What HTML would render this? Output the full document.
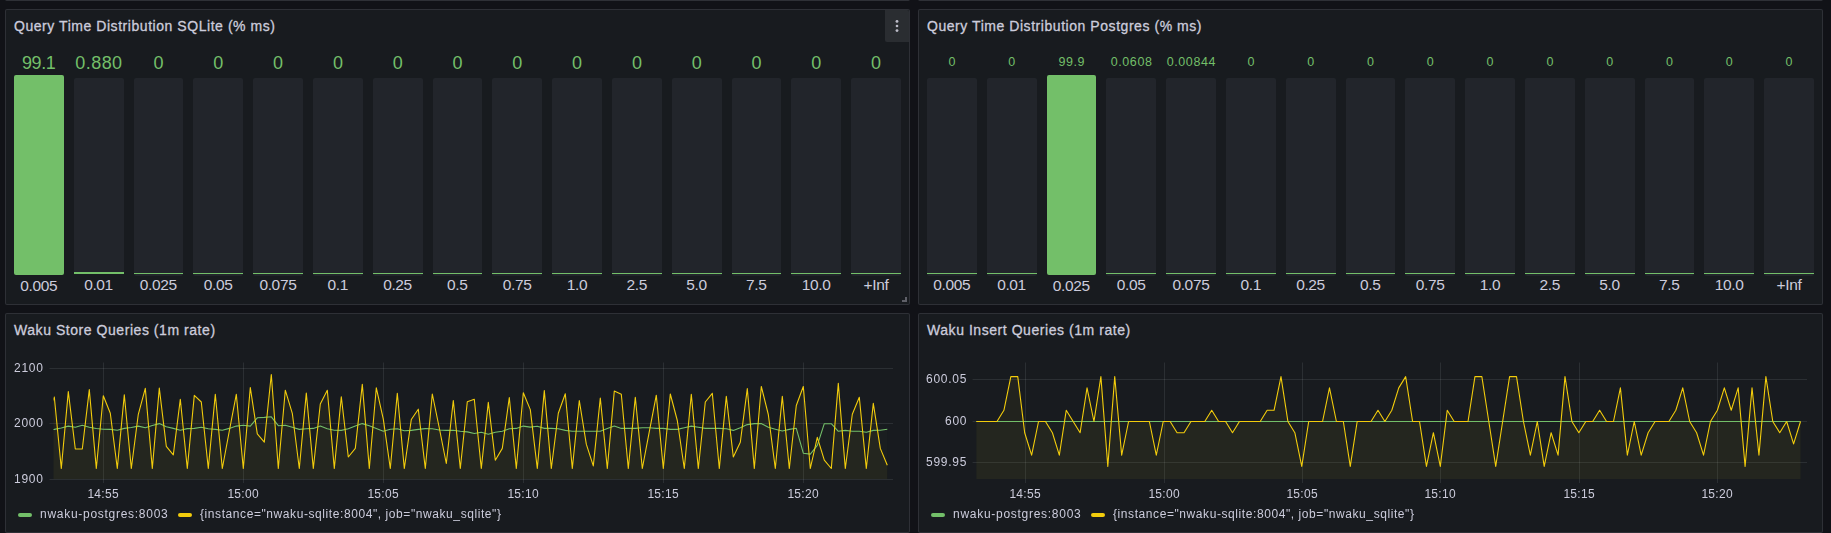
<!DOCTYPE html><html><head><meta charset="utf-8"><style>
html,body{margin:0;padding:0;background:#111217;}
body{width:1831px;height:533px;overflow:hidden;position:relative;font-family:"Liberation Sans",sans-serif;color:#ccccdc;}
.p{position:absolute;background:#181b1f;border:1px solid rgba(204,204,220,0.12);border-radius:2px;box-sizing:border-box;}
.a{position:absolute;white-space:nowrap;}
.ttl{position:absolute;font-size:14px;line-height:16px;white-space:nowrap;letter-spacing:0.55px;-webkit-text-stroke:0.3px #ccccdc;}
.v{position:absolute;text-align:center;color:#73bf69;white-space:nowrap;}
.lb{position:absolute;text-align:center;white-space:nowrap;font-size:15.5px;line-height:16px;letter-spacing:-0.35px;text-indent:-0.35px;}
.eb{position:absolute;background:#22252b;border-radius:2px;}
.fb{position:absolute;background:#73bf69;border-radius:2px;}
.ax{position:absolute;font-size:12px;line-height:14px;white-space:nowrap;will-change:transform;}
.lg{position:absolute;font-size:12px;line-height:14px;white-space:nowrap;letter-spacing:0.72px;will-change:transform;}
.sw{position:absolute;width:14px;height:4px;border-radius:2px;}

</style></head><body>
<div class="p" style="left:5px;top:-60px;width:905px;height:61px"></div>
<div class="p" style="left:918px;top:-60px;width:905px;height:61px"></div>
<div class="p" style="left:5px;top:9px;width:905px;height:296px"></div>
<div class="p" style="left:5px;top:313px;width:905px;height:220px"></div>
<div class="p" style="left:918px;top:9px;width:905px;height:296px"></div>
<div class="p" style="left:918px;top:313px;width:905px;height:220px"></div>
<div class="a" style="left:885px;top:10px;width:24px;height:32px;background:rgba(204,204,220,0.10);border-radius:0 2px 0 2px"></div>
<svg class="a" style="left:885px;top:10px" width="24" height="32"><circle cx="12" cy="11.4" r="1.45" fill="#bcbcc8"/><circle cx="12" cy="15.95" r="1.3" fill="#bcbcc8"/><circle cx="12" cy="20.6" r="1.45" fill="#bcbcc8"/></svg>
<div class="a" style="left:902px;top:297px;width:5px;height:5px;border-right:2px solid #5f6068;border-bottom:2px solid #5f6068;box-sizing:border-box"></div>
<div class="ttl" style="left:14px;top:17.5px">Query Time Distribution SQLite (% ms)</div>
<div class="ttl" style="left:927px;top:17.5px">Query Time Distribution Postgres (% ms)</div>
<div class="ttl" style="left:14px;top:321.5px">Waku Store Queries (1m rate)</div>
<div class="ttl" style="left:927px;top:321.5px">Waku Insert Queries (1m rate)</div>
<div class="v" style="left:9.00px;width:59.80px;top:52.5px;font-size:18px;line-height:20px;letter-spacing:-0.45px;text-indent:-0.45px">99.1</div>
<div class="fb" style="left:14.00px;width:49.80px;top:75px;height:200px"></div>
<div class="lb" style="left:9.00px;width:59.80px;top:277.5px">0.005</div>
<div class="v" style="left:68.80px;width:59.80px;top:52.5px;font-size:18px;line-height:20px;letter-spacing:0.45px;text-indent:0.45px">0.880</div>
<div class="eb" style="left:73.80px;width:49.80px;top:78px;height:196px"></div>
<div class="fb" style="left:73.80px;width:49.80px;top:272px;height:2px;border-radius:0"></div>
<div class="lb" style="left:68.80px;width:59.80px;top:276.5px">0.01</div>
<div class="v" style="left:128.60px;width:59.80px;top:52.5px;font-size:18px;line-height:20px;letter-spacing:0.45px;text-indent:0.45px">0</div>
<div class="eb" style="left:133.60px;width:49.80px;top:78px;height:198px"></div>
<div class="fb" style="left:133.60px;width:49.80px;top:273px;height:1px;border-radius:0"></div>
<div class="lb" style="left:128.60px;width:59.80px;top:276.5px">0.025</div>
<div class="v" style="left:188.40px;width:59.80px;top:52.5px;font-size:18px;line-height:20px;letter-spacing:0.45px;text-indent:0.45px">0</div>
<div class="eb" style="left:193.40px;width:49.80px;top:78px;height:198px"></div>
<div class="fb" style="left:193.40px;width:49.80px;top:273px;height:1px;border-radius:0"></div>
<div class="lb" style="left:188.40px;width:59.80px;top:276.5px">0.05</div>
<div class="v" style="left:248.20px;width:59.80px;top:52.5px;font-size:18px;line-height:20px;letter-spacing:0.45px;text-indent:0.45px">0</div>
<div class="eb" style="left:253.20px;width:49.80px;top:78px;height:198px"></div>
<div class="fb" style="left:253.20px;width:49.80px;top:273px;height:1px;border-radius:0"></div>
<div class="lb" style="left:248.20px;width:59.80px;top:276.5px">0.075</div>
<div class="v" style="left:308.00px;width:59.80px;top:52.5px;font-size:18px;line-height:20px;letter-spacing:0.45px;text-indent:0.45px">0</div>
<div class="eb" style="left:313.00px;width:49.80px;top:78px;height:198px"></div>
<div class="fb" style="left:313.00px;width:49.80px;top:273px;height:1px;border-radius:0"></div>
<div class="lb" style="left:308.00px;width:59.80px;top:276.5px">0.1</div>
<div class="v" style="left:367.80px;width:59.80px;top:52.5px;font-size:18px;line-height:20px;letter-spacing:0.45px;text-indent:0.45px">0</div>
<div class="eb" style="left:372.80px;width:49.80px;top:78px;height:198px"></div>
<div class="fb" style="left:372.80px;width:49.80px;top:273px;height:1px;border-radius:0"></div>
<div class="lb" style="left:367.80px;width:59.80px;top:276.5px">0.25</div>
<div class="v" style="left:427.60px;width:59.80px;top:52.5px;font-size:18px;line-height:20px;letter-spacing:0.45px;text-indent:0.45px">0</div>
<div class="eb" style="left:432.60px;width:49.80px;top:78px;height:198px"></div>
<div class="fb" style="left:432.60px;width:49.80px;top:273px;height:1px;border-radius:0"></div>
<div class="lb" style="left:427.60px;width:59.80px;top:276.5px">0.5</div>
<div class="v" style="left:487.40px;width:59.80px;top:52.5px;font-size:18px;line-height:20px;letter-spacing:0.45px;text-indent:0.45px">0</div>
<div class="eb" style="left:492.40px;width:49.80px;top:78px;height:198px"></div>
<div class="fb" style="left:492.40px;width:49.80px;top:273px;height:1px;border-radius:0"></div>
<div class="lb" style="left:487.40px;width:59.80px;top:276.5px">0.75</div>
<div class="v" style="left:547.20px;width:59.80px;top:52.5px;font-size:18px;line-height:20px;letter-spacing:0.45px;text-indent:0.45px">0</div>
<div class="eb" style="left:552.20px;width:49.80px;top:78px;height:198px"></div>
<div class="fb" style="left:552.20px;width:49.80px;top:273px;height:1px;border-radius:0"></div>
<div class="lb" style="left:547.20px;width:59.80px;top:276.5px">1.0</div>
<div class="v" style="left:607.00px;width:59.80px;top:52.5px;font-size:18px;line-height:20px;letter-spacing:0.45px;text-indent:0.45px">0</div>
<div class="eb" style="left:612.00px;width:49.80px;top:78px;height:198px"></div>
<div class="fb" style="left:612.00px;width:49.80px;top:273px;height:1px;border-radius:0"></div>
<div class="lb" style="left:607.00px;width:59.80px;top:276.5px">2.5</div>
<div class="v" style="left:666.80px;width:59.80px;top:52.5px;font-size:18px;line-height:20px;letter-spacing:0.45px;text-indent:0.45px">0</div>
<div class="eb" style="left:671.80px;width:49.80px;top:78px;height:198px"></div>
<div class="fb" style="left:671.80px;width:49.80px;top:273px;height:1px;border-radius:0"></div>
<div class="lb" style="left:666.80px;width:59.80px;top:276.5px">5.0</div>
<div class="v" style="left:726.60px;width:59.80px;top:52.5px;font-size:18px;line-height:20px;letter-spacing:0.45px;text-indent:0.45px">0</div>
<div class="eb" style="left:731.60px;width:49.80px;top:78px;height:198px"></div>
<div class="fb" style="left:731.60px;width:49.80px;top:273px;height:1px;border-radius:0"></div>
<div class="lb" style="left:726.60px;width:59.80px;top:276.5px">7.5</div>
<div class="v" style="left:786.40px;width:59.80px;top:52.5px;font-size:18px;line-height:20px;letter-spacing:0.45px;text-indent:0.45px">0</div>
<div class="eb" style="left:791.40px;width:49.80px;top:78px;height:198px"></div>
<div class="fb" style="left:791.40px;width:49.80px;top:273px;height:1px;border-radius:0"></div>
<div class="lb" style="left:786.40px;width:59.80px;top:276.5px">10.0</div>
<div class="v" style="left:846.20px;width:59.80px;top:52.5px;font-size:18px;line-height:20px;letter-spacing:0.45px;text-indent:0.45px">0</div>
<div class="eb" style="left:851.20px;width:49.80px;top:78px;height:198px"></div>
<div class="fb" style="left:851.20px;width:49.80px;top:273px;height:1px;border-radius:0"></div>
<div class="lb" style="left:846.20px;width:59.80px;top:276.5px">+Inf</div>
<div class="v" style="left:922.00px;width:59.80px;top:54.5px;font-size:12.5px;line-height:14.5px;letter-spacing:0.6px;text-indent:0.6px">0</div>
<div class="eb" style="left:927.00px;width:49.80px;top:78px;height:198px"></div>
<div class="fb" style="left:927.00px;width:49.80px;top:273px;height:1px;border-radius:0"></div>
<div class="lb" style="left:922.00px;width:59.80px;top:276.5px">0.005</div>
<div class="v" style="left:981.80px;width:59.80px;top:54.5px;font-size:12.5px;line-height:14.5px;letter-spacing:0.6px;text-indent:0.6px">0</div>
<div class="eb" style="left:986.80px;width:49.80px;top:78px;height:198px"></div>
<div class="fb" style="left:986.80px;width:49.80px;top:273px;height:1px;border-radius:0"></div>
<div class="lb" style="left:981.80px;width:59.80px;top:276.5px">0.01</div>
<div class="v" style="left:1041.60px;width:59.80px;top:54.5px;font-size:12.5px;line-height:14.5px;letter-spacing:0.6px;text-indent:0.6px">99.9</div>
<div class="fb" style="left:1046.60px;width:49.80px;top:75px;height:200px"></div>
<div class="lb" style="left:1041.60px;width:59.80px;top:277.5px">0.025</div>
<div class="v" style="left:1101.40px;width:59.80px;top:54.5px;font-size:12.5px;line-height:14.5px;letter-spacing:0.6px;text-indent:0.6px">0.0608</div>
<div class="eb" style="left:1106.40px;width:49.80px;top:78px;height:198px"></div>
<div class="fb" style="left:1106.40px;width:49.80px;top:273px;height:1px;border-radius:0"></div>
<div class="lb" style="left:1101.40px;width:59.80px;top:276.5px">0.05</div>
<div class="v" style="left:1161.20px;width:59.80px;top:54.5px;font-size:12.5px;line-height:14.5px;letter-spacing:0.6px;text-indent:0.6px">0.00844</div>
<div class="eb" style="left:1166.20px;width:49.80px;top:78px;height:198px"></div>
<div class="fb" style="left:1166.20px;width:49.80px;top:273px;height:1px;border-radius:0"></div>
<div class="lb" style="left:1161.20px;width:59.80px;top:276.5px">0.075</div>
<div class="v" style="left:1221.00px;width:59.80px;top:54.5px;font-size:12.5px;line-height:14.5px;letter-spacing:0.6px;text-indent:0.6px">0</div>
<div class="eb" style="left:1226.00px;width:49.80px;top:78px;height:198px"></div>
<div class="fb" style="left:1226.00px;width:49.80px;top:273px;height:1px;border-radius:0"></div>
<div class="lb" style="left:1221.00px;width:59.80px;top:276.5px">0.1</div>
<div class="v" style="left:1280.80px;width:59.80px;top:54.5px;font-size:12.5px;line-height:14.5px;letter-spacing:0.6px;text-indent:0.6px">0</div>
<div class="eb" style="left:1285.80px;width:49.80px;top:78px;height:198px"></div>
<div class="fb" style="left:1285.80px;width:49.80px;top:273px;height:1px;border-radius:0"></div>
<div class="lb" style="left:1280.80px;width:59.80px;top:276.5px">0.25</div>
<div class="v" style="left:1340.60px;width:59.80px;top:54.5px;font-size:12.5px;line-height:14.5px;letter-spacing:0.6px;text-indent:0.6px">0</div>
<div class="eb" style="left:1345.60px;width:49.80px;top:78px;height:198px"></div>
<div class="fb" style="left:1345.60px;width:49.80px;top:273px;height:1px;border-radius:0"></div>
<div class="lb" style="left:1340.60px;width:59.80px;top:276.5px">0.5</div>
<div class="v" style="left:1400.40px;width:59.80px;top:54.5px;font-size:12.5px;line-height:14.5px;letter-spacing:0.6px;text-indent:0.6px">0</div>
<div class="eb" style="left:1405.40px;width:49.80px;top:78px;height:198px"></div>
<div class="fb" style="left:1405.40px;width:49.80px;top:273px;height:1px;border-radius:0"></div>
<div class="lb" style="left:1400.40px;width:59.80px;top:276.5px">0.75</div>
<div class="v" style="left:1460.20px;width:59.80px;top:54.5px;font-size:12.5px;line-height:14.5px;letter-spacing:0.6px;text-indent:0.6px">0</div>
<div class="eb" style="left:1465.20px;width:49.80px;top:78px;height:198px"></div>
<div class="fb" style="left:1465.20px;width:49.80px;top:273px;height:1px;border-radius:0"></div>
<div class="lb" style="left:1460.20px;width:59.80px;top:276.5px">1.0</div>
<div class="v" style="left:1520.00px;width:59.80px;top:54.5px;font-size:12.5px;line-height:14.5px;letter-spacing:0.6px;text-indent:0.6px">0</div>
<div class="eb" style="left:1525.00px;width:49.80px;top:78px;height:198px"></div>
<div class="fb" style="left:1525.00px;width:49.80px;top:273px;height:1px;border-radius:0"></div>
<div class="lb" style="left:1520.00px;width:59.80px;top:276.5px">2.5</div>
<div class="v" style="left:1579.80px;width:59.80px;top:54.5px;font-size:12.5px;line-height:14.5px;letter-spacing:0.6px;text-indent:0.6px">0</div>
<div class="eb" style="left:1584.80px;width:49.80px;top:78px;height:198px"></div>
<div class="fb" style="left:1584.80px;width:49.80px;top:273px;height:1px;border-radius:0"></div>
<div class="lb" style="left:1579.80px;width:59.80px;top:276.5px">5.0</div>
<div class="v" style="left:1639.60px;width:59.80px;top:54.5px;font-size:12.5px;line-height:14.5px;letter-spacing:0.6px;text-indent:0.6px">0</div>
<div class="eb" style="left:1644.60px;width:49.80px;top:78px;height:198px"></div>
<div class="fb" style="left:1644.60px;width:49.80px;top:273px;height:1px;border-radius:0"></div>
<div class="lb" style="left:1639.60px;width:59.80px;top:276.5px">7.5</div>
<div class="v" style="left:1699.40px;width:59.80px;top:54.5px;font-size:12.5px;line-height:14.5px;letter-spacing:0.6px;text-indent:0.6px">0</div>
<div class="eb" style="left:1704.40px;width:49.80px;top:78px;height:198px"></div>
<div class="fb" style="left:1704.40px;width:49.80px;top:273px;height:1px;border-radius:0"></div>
<div class="lb" style="left:1699.40px;width:59.80px;top:276.5px">10.0</div>
<div class="v" style="left:1759.20px;width:59.80px;top:54.5px;font-size:12.5px;line-height:14.5px;letter-spacing:0.6px;text-indent:0.6px">0</div>
<div class="eb" style="left:1764.20px;width:49.80px;top:78px;height:198px"></div>
<div class="fb" style="left:1764.20px;width:49.80px;top:273px;height:1px;border-radius:0"></div>
<div class="lb" style="left:1759.20px;width:59.80px;top:276.5px">+Inf</div>
<svg class="a" style="left:0;top:0" width="1831" height="533"><clipPath id="c1"><rect x="53.5" y="362.5" width="839.5" height="116.5"/></clipPath><line x1="49.5" y1="368.5" x2="893" y2="368.5" stroke="rgba(240,250,255,0.09)" stroke-width="1"/><line x1="49.5" y1="423.5" x2="893" y2="423.5" stroke="rgba(240,250,255,0.09)" stroke-width="1"/><line x1="49.5" y1="479.5" x2="893" y2="479.5" stroke="rgba(240,250,255,0.09)" stroke-width="1"/><line x1="103.5" y1="362.5" x2="103.5" y2="483" stroke="rgba(240,250,255,0.09)" stroke-width="1"/><line x1="243.5" y1="362.5" x2="243.5" y2="483" stroke="rgba(240,250,255,0.09)" stroke-width="1"/><line x1="383.5" y1="362.5" x2="383.5" y2="483" stroke="rgba(240,250,255,0.09)" stroke-width="1"/><line x1="523.5" y1="362.5" x2="523.5" y2="483" stroke="rgba(240,250,255,0.09)" stroke-width="1"/><line x1="663.5" y1="362.5" x2="663.5" y2="483" stroke="rgba(240,250,255,0.09)" stroke-width="1"/><line x1="803.5" y1="362.5" x2="803.5" y2="483" stroke="rgba(240,250,255,0.09)" stroke-width="1"/><g clip-path="url(#c1)"><path d="M47.30,429.80 L54.30,429.40 L61.30,428.00 L68.30,426.10 L75.30,427.30 L82.30,425.30 L89.30,427.30 L96.30,428.50 L103.30,429.20 L110.30,429.40 L117.30,430.20 L124.30,428.40 L131.30,427.50 L138.30,426.10 L145.30,427.70 L152.30,425.50 L159.30,423.60 L166.30,426.70 L173.30,428.40 L180.30,430.20 L187.30,428.60 L194.30,428.40 L201.30,427.30 L208.30,428.80 L215.30,429.40 L222.30,430.20 L229.30,428.40 L236.30,426.10 L243.30,425.30 L250.30,426.10 L257.30,417.80 L264.30,417.40 L271.30,416.80 L278.30,425.70 L285.30,425.30 L292.30,427.30 L299.30,429.40 L306.30,428.80 L313.30,428.40 L320.30,426.10 L327.30,428.80 L334.30,430.20 L341.30,430.40 L348.30,428.80 L355.30,426.10 L362.30,423.60 L369.30,425.70 L376.30,428.40 L383.30,431.20 L390.30,429.20 L397.30,428.80 L404.30,430.80 L411.30,430.40 L418.30,429.40 L425.30,428.60 L432.30,428.80 L439.30,430.00 L446.30,430.40 L453.30,430.20 L460.30,431.20 L467.30,431.90 L474.30,433.50 L481.30,432.30 L488.30,434.30 L495.30,432.30 L502.30,431.20 L509.30,428.80 L516.30,428.40 L523.30,426.10 L530.30,427.10 L537.30,426.30 L544.30,428.40 L551.30,428.40 L558.30,428.80 L565.30,430.40 L572.30,431.20 L579.30,431.20 L586.30,431.20 L593.30,431.20 L600.30,431.20 L607.30,428.40 L614.30,426.10 L621.30,428.40 L628.30,428.40 L635.30,428.40 L642.30,427.70 L649.30,427.70 L656.30,428.40 L663.30,428.40 L670.30,429.40 L677.30,429.40 L684.30,427.70 L691.30,426.10 L698.30,427.30 L705.30,428.40 L712.30,428.40 L719.30,428.40 L726.30,428.80 L733.30,430.40 L740.30,427.70 L747.30,424.60 L754.30,423.60 L761.30,423.60 L768.30,427.30 L775.30,429.20 L782.30,431.00 L789.30,429.40 L796.30,428.30 L803.30,453.20 L810.30,454.10 L817.30,445.30 L824.30,423.70 L831.30,423.70 L838.30,431.30 L845.30,430.40 L852.30,431.20 L859.30,431.20 L866.30,432.30 L873.30,430.40 L880.30,430.20 L887.30,429.20 L887.30,479 L47.30,479 Z" fill="#73bf69" fill-opacity="0.025" stroke="none"/><path d="M47.30,413.50 L54.30,397.00 L61.30,468.50 L68.30,391.60 L75.30,449.00 L82.30,449.00 L89.30,389.60 L96.30,468.50 L103.30,395.80 L110.30,413.30 L117.30,468.50 L124.30,394.70 L131.30,468.50 L138.30,414.30 L145.30,388.40 L152.30,468.50 L159.30,388.10 L166.30,446.30 L173.30,454.90 L180.30,399.30 L187.30,468.50 L194.30,395.40 L201.30,402.00 L208.30,468.50 L215.30,394.30 L222.30,468.50 L229.30,431.00 L236.30,394.30 L243.30,468.50 L250.30,387.50 L257.30,433.90 L264.30,442.20 L271.30,374.50 L278.30,468.50 L285.30,390.20 L292.30,413.30 L299.30,468.50 L306.30,393.10 L313.30,468.50 L320.30,404.00 L327.30,390.20 L334.30,468.50 L341.30,396.80 L348.30,457.00 L355.30,448.40 L362.30,384.40 L369.30,468.50 L376.30,387.80 L383.30,419.20 L390.30,468.50 L397.30,393.30 L404.30,468.50 L411.30,419.50 L418.30,409.20 L425.30,468.50 L432.30,394.00 L439.30,428.00 L446.30,463.50 L453.30,400.50 L460.30,468.50 L467.30,401.80 L474.30,399.30 L481.30,468.50 L488.30,402.40 L495.30,460.30 L502.30,448.40 L509.30,397.50 L516.30,468.50 L523.30,392.70 L530.30,409.60 L537.30,468.50 L544.30,390.60 L551.30,468.50 L558.30,413.30 L565.30,393.70 L572.30,468.50 L579.30,400.50 L586.30,444.20 L593.30,465.90 L600.30,398.00 L607.30,468.50 L614.30,391.00 L621.30,394.30 L628.30,468.50 L635.30,397.20 L642.30,468.50 L649.30,431.60 L656.30,395.20 L663.30,468.50 L670.30,394.00 L677.30,420.50 L684.30,468.50 L691.30,394.30 L698.30,468.50 L705.30,402.00 L712.30,393.30 L719.30,468.50 L726.30,396.40 L733.30,457.00 L740.30,442.20 L747.30,388.60 L754.30,468.50 L761.30,386.50 L768.30,414.50 L775.30,468.50 L782.30,396.40 L789.30,468.50 L796.30,405.50 L803.30,386.50 L810.30,468.50 L817.30,437.30 L824.30,460.20 L831.30,468.50 L838.30,383.40 L845.30,468.50 L852.30,414.30 L859.30,397.20 L866.30,468.50 L873.30,403.40 L880.30,448.40 L887.30,465.30 L887.30,479 L47.30,479 Z" fill="#f2cc0c" fill-opacity="0.05" stroke="none"/><path d="M47.30,429.80 L54.30,429.40 L61.30,428.00 L68.30,426.10 L75.30,427.30 L82.30,425.30 L89.30,427.30 L96.30,428.50 L103.30,429.20 L110.30,429.40 L117.30,430.20 L124.30,428.40 L131.30,427.50 L138.30,426.10 L145.30,427.70 L152.30,425.50 L159.30,423.60 L166.30,426.70 L173.30,428.40 L180.30,430.20 L187.30,428.60 L194.30,428.40 L201.30,427.30 L208.30,428.80 L215.30,429.40 L222.30,430.20 L229.30,428.40 L236.30,426.10 L243.30,425.30 L250.30,426.10 L257.30,417.80 L264.30,417.40 L271.30,416.80 L278.30,425.70 L285.30,425.30 L292.30,427.30 L299.30,429.40 L306.30,428.80 L313.30,428.40 L320.30,426.10 L327.30,428.80 L334.30,430.20 L341.30,430.40 L348.30,428.80 L355.30,426.10 L362.30,423.60 L369.30,425.70 L376.30,428.40 L383.30,431.20 L390.30,429.20 L397.30,428.80 L404.30,430.80 L411.30,430.40 L418.30,429.40 L425.30,428.60 L432.30,428.80 L439.30,430.00 L446.30,430.40 L453.30,430.20 L460.30,431.20 L467.30,431.90 L474.30,433.50 L481.30,432.30 L488.30,434.30 L495.30,432.30 L502.30,431.20 L509.30,428.80 L516.30,428.40 L523.30,426.10 L530.30,427.10 L537.30,426.30 L544.30,428.40 L551.30,428.40 L558.30,428.80 L565.30,430.40 L572.30,431.20 L579.30,431.20 L586.30,431.20 L593.30,431.20 L600.30,431.20 L607.30,428.40 L614.30,426.10 L621.30,428.40 L628.30,428.40 L635.30,428.40 L642.30,427.70 L649.30,427.70 L656.30,428.40 L663.30,428.40 L670.30,429.40 L677.30,429.40 L684.30,427.70 L691.30,426.10 L698.30,427.30 L705.30,428.40 L712.30,428.40 L719.30,428.40 L726.30,428.80 L733.30,430.40 L740.30,427.70 L747.30,424.60 L754.30,423.60 L761.30,423.60 L768.30,427.30 L775.30,429.20 L782.30,431.00 L789.30,429.40 L796.30,428.30 L803.30,453.20 L810.30,454.10 L817.30,445.30 L824.30,423.70 L831.30,423.70 L838.30,431.30 L845.30,430.40 L852.30,431.20 L859.30,431.20 L866.30,432.30 L873.30,430.40 L880.30,430.20 L887.30,429.20" fill="none" stroke="#73bf69" stroke-width="1.1" stroke-linejoin="round"/><path d="M47.30,413.50 L54.30,397.00 L61.30,468.50 L68.30,391.60 L75.30,449.00 L82.30,449.00 L89.30,389.60 L96.30,468.50 L103.30,395.80 L110.30,413.30 L117.30,468.50 L124.30,394.70 L131.30,468.50 L138.30,414.30 L145.30,388.40 L152.30,468.50 L159.30,388.10 L166.30,446.30 L173.30,454.90 L180.30,399.30 L187.30,468.50 L194.30,395.40 L201.30,402.00 L208.30,468.50 L215.30,394.30 L222.30,468.50 L229.30,431.00 L236.30,394.30 L243.30,468.50 L250.30,387.50 L257.30,433.90 L264.30,442.20 L271.30,374.50 L278.30,468.50 L285.30,390.20 L292.30,413.30 L299.30,468.50 L306.30,393.10 L313.30,468.50 L320.30,404.00 L327.30,390.20 L334.30,468.50 L341.30,396.80 L348.30,457.00 L355.30,448.40 L362.30,384.40 L369.30,468.50 L376.30,387.80 L383.30,419.20 L390.30,468.50 L397.30,393.30 L404.30,468.50 L411.30,419.50 L418.30,409.20 L425.30,468.50 L432.30,394.00 L439.30,428.00 L446.30,463.50 L453.30,400.50 L460.30,468.50 L467.30,401.80 L474.30,399.30 L481.30,468.50 L488.30,402.40 L495.30,460.30 L502.30,448.40 L509.30,397.50 L516.30,468.50 L523.30,392.70 L530.30,409.60 L537.30,468.50 L544.30,390.60 L551.30,468.50 L558.30,413.30 L565.30,393.70 L572.30,468.50 L579.30,400.50 L586.30,444.20 L593.30,465.90 L600.30,398.00 L607.30,468.50 L614.30,391.00 L621.30,394.30 L628.30,468.50 L635.30,397.20 L642.30,468.50 L649.30,431.60 L656.30,395.20 L663.30,468.50 L670.30,394.00 L677.30,420.50 L684.30,468.50 L691.30,394.30 L698.30,468.50 L705.30,402.00 L712.30,393.30 L719.30,468.50 L726.30,396.40 L733.30,457.00 L740.30,442.20 L747.30,388.60 L754.30,468.50 L761.30,386.50 L768.30,414.50 L775.30,468.50 L782.30,396.40 L789.30,468.50 L796.30,405.50 L803.30,386.50 L810.30,468.50 L817.30,437.30 L824.30,460.20 L831.30,468.50 L838.30,383.40 L845.30,468.50 L852.30,414.30 L859.30,397.20 L866.30,468.50 L873.30,403.40 L880.30,448.40 L887.30,465.30" fill="none" stroke="#f2cc0c" stroke-width="1.1" stroke-linejoin="round"/></g><clipPath id="c2"><rect x="976.2" y="362.5" width="830.8" height="116.5"/></clipPath><line x1="972.6" y1="379.5" x2="1807" y2="379.5" stroke="rgba(240,250,255,0.09)" stroke-width="1"/><line x1="972.6" y1="421.5" x2="1807" y2="421.5" stroke="rgba(240,250,255,0.09)" stroke-width="1"/><line x1="972.6" y1="462.5" x2="1807" y2="462.5" stroke="rgba(240,250,255,0.09)" stroke-width="1"/><line x1="1025.5" y1="362.5" x2="1025.5" y2="483" stroke="rgba(240,250,255,0.09)" stroke-width="1"/><line x1="1164.5" y1="362.5" x2="1164.5" y2="483" stroke="rgba(240,250,255,0.09)" stroke-width="1"/><line x1="1302.5" y1="362.5" x2="1302.5" y2="483" stroke="rgba(240,250,255,0.09)" stroke-width="1"/><line x1="1440.5" y1="362.5" x2="1440.5" y2="483" stroke="rgba(240,250,255,0.09)" stroke-width="1"/><line x1="1579.5" y1="362.5" x2="1579.5" y2="483" stroke="rgba(240,250,255,0.09)" stroke-width="1"/><line x1="1717.5" y1="362.5" x2="1717.5" y2="483" stroke="rgba(240,250,255,0.09)" stroke-width="1"/><g clip-path="url(#c2)"><path d="M976.20,421.50 L1800.50,421.50 L1800.50,479 L976.20,479 Z" fill="#73bf69" fill-opacity="0.025" stroke="none"/><path d="M976.20,421.50 L983.13,421.50 L990.05,421.50 L996.98,421.50 L1003.91,410.28 L1010.84,376.62 L1017.76,376.62 L1024.69,432.72 L1031.62,455.16 L1038.54,421.50 L1045.47,421.50 L1052.40,432.72 L1059.32,455.16 L1066.25,410.28 L1073.18,421.50 L1080.11,432.72 L1087.03,387.84 L1093.96,421.50 L1100.89,376.62 L1107.81,466.38 L1114.74,376.62 L1121.67,455.16 L1128.59,421.50 L1135.52,421.50 L1142.45,421.50 L1149.38,421.50 L1156.30,455.16 L1163.23,421.50 L1170.16,421.50 L1177.08,432.72 L1184.01,432.72 L1190.94,421.50 L1197.86,421.50 L1204.79,421.50 L1211.72,410.28 L1218.64,421.50 L1225.57,421.50 L1232.50,432.72 L1239.43,421.50 L1246.35,421.50 L1253.28,421.50 L1260.21,421.50 L1267.13,410.28 L1274.06,410.28 L1280.99,376.62 L1287.91,421.50 L1294.84,432.72 L1301.77,466.38 L1308.70,421.50 L1315.62,421.50 L1322.55,421.50 L1329.48,387.84 L1336.40,421.50 L1343.33,421.50 L1350.26,466.38 L1357.18,421.50 L1364.11,421.50 L1371.04,421.50 L1377.97,410.28 L1384.89,421.50 L1391.82,410.28 L1398.75,387.84 L1405.67,376.62 L1412.60,421.50 L1419.53,421.50 L1426.45,466.38 L1433.38,432.72 L1440.31,466.38 L1447.24,410.28 L1454.16,421.50 L1461.09,421.50 L1468.02,421.50 L1474.94,376.62 L1481.87,376.62 L1488.80,421.50 L1495.72,466.38 L1502.65,421.50 L1509.58,376.62 L1516.51,376.62 L1523.43,421.50 L1530.36,455.16 L1537.29,421.50 L1544.21,466.38 L1551.14,432.72 L1558.07,455.16 L1564.99,376.62 L1571.92,421.50 L1578.85,432.72 L1585.78,421.50 L1592.70,421.50 L1599.63,410.28 L1606.56,421.50 L1613.48,421.50 L1620.41,387.84 L1627.34,455.16 L1634.26,421.50 L1641.19,455.16 L1648.12,432.72 L1655.05,421.50 L1661.97,421.50 L1668.90,421.50 L1675.83,410.28 L1682.75,387.84 L1689.68,421.50 L1696.61,432.72 L1703.53,455.16 L1710.46,421.50 L1717.39,410.28 L1724.32,387.84 L1731.24,410.28 L1738.17,387.84 L1745.10,466.38 L1752.02,387.84 L1758.95,455.16 L1765.88,376.62 L1772.80,421.50 L1779.73,432.72 L1786.66,421.50 L1793.59,443.94 L1800.51,421.50 L1800.51,479 L976.20,479 Z" fill="#f2cc0c" fill-opacity="0.05" stroke="none"/><path d="M976.20,421.50 L1800.50,421.50" fill="none" stroke="#73bf69" stroke-width="1.1" stroke-linejoin="round"/><path d="M976.20,421.50 L983.13,421.50 L990.05,421.50 L996.98,421.50 L1003.91,410.28 L1010.84,376.62 L1017.76,376.62 L1024.69,432.72 L1031.62,455.16 L1038.54,421.50 L1045.47,421.50 L1052.40,432.72 L1059.32,455.16 L1066.25,410.28 L1073.18,421.50 L1080.11,432.72 L1087.03,387.84 L1093.96,421.50 L1100.89,376.62 L1107.81,466.38 L1114.74,376.62 L1121.67,455.16 L1128.59,421.50 L1135.52,421.50 L1142.45,421.50 L1149.38,421.50 L1156.30,455.16 L1163.23,421.50 L1170.16,421.50 L1177.08,432.72 L1184.01,432.72 L1190.94,421.50 L1197.86,421.50 L1204.79,421.50 L1211.72,410.28 L1218.64,421.50 L1225.57,421.50 L1232.50,432.72 L1239.43,421.50 L1246.35,421.50 L1253.28,421.50 L1260.21,421.50 L1267.13,410.28 L1274.06,410.28 L1280.99,376.62 L1287.91,421.50 L1294.84,432.72 L1301.77,466.38 L1308.70,421.50 L1315.62,421.50 L1322.55,421.50 L1329.48,387.84 L1336.40,421.50 L1343.33,421.50 L1350.26,466.38 L1357.18,421.50 L1364.11,421.50 L1371.04,421.50 L1377.97,410.28 L1384.89,421.50 L1391.82,410.28 L1398.75,387.84 L1405.67,376.62 L1412.60,421.50 L1419.53,421.50 L1426.45,466.38 L1433.38,432.72 L1440.31,466.38 L1447.24,410.28 L1454.16,421.50 L1461.09,421.50 L1468.02,421.50 L1474.94,376.62 L1481.87,376.62 L1488.80,421.50 L1495.72,466.38 L1502.65,421.50 L1509.58,376.62 L1516.51,376.62 L1523.43,421.50 L1530.36,455.16 L1537.29,421.50 L1544.21,466.38 L1551.14,432.72 L1558.07,455.16 L1564.99,376.62 L1571.92,421.50 L1578.85,432.72 L1585.78,421.50 L1592.70,421.50 L1599.63,410.28 L1606.56,421.50 L1613.48,421.50 L1620.41,387.84 L1627.34,455.16 L1634.26,421.50 L1641.19,455.16 L1648.12,432.72 L1655.05,421.50 L1661.97,421.50 L1668.90,421.50 L1675.83,410.28 L1682.75,387.84 L1689.68,421.50 L1696.61,432.72 L1703.53,455.16 L1710.46,421.50 L1717.39,410.28 L1724.32,387.84 L1731.24,410.28 L1738.17,387.84 L1745.10,466.38 L1752.02,387.84 L1758.95,455.16 L1765.88,376.62 L1772.80,421.50 L1779.73,432.72 L1786.66,421.50 L1793.59,443.94 L1800.51,421.50" fill="none" stroke="#f2cc0c" stroke-width="1.1" stroke-linejoin="round"/></g></svg>
<div class="ax" style="right:1787.25px;top:360.5px;letter-spacing:0.75px">2100</div>
<div class="ax" style="right:1787.25px;top:416px;letter-spacing:0.75px">2000</div>
<div class="ax" style="right:1787.25px;top:471.5px;letter-spacing:0.75px">1900</div>
<div class="ax" style="right:864.15px;top:372px;letter-spacing:0.75px">600.05</div>
<div class="ax" style="right:864.15px;top:414px;letter-spacing:0.75px">600</div>
<div class="ax" style="right:864.15px;top:455px;letter-spacing:0.75px">599.95</div>
<div class="ax" style="left:72.70px;width:60px;text-align:center;top:486.5px;letter-spacing:0.3px;text-indent:0.3px">14:55</div>
<div class="ax" style="left:994.70px;width:60px;text-align:center;top:486.5px;letter-spacing:0.3px;text-indent:0.3px">14:55</div>
<div class="ax" style="left:212.70px;width:60px;text-align:center;top:486.5px;letter-spacing:0.3px;text-indent:0.3px">15:00</div>
<div class="ax" style="left:1133.70px;width:60px;text-align:center;top:486.5px;letter-spacing:0.3px;text-indent:0.3px">15:00</div>
<div class="ax" style="left:352.70px;width:60px;text-align:center;top:486.5px;letter-spacing:0.3px;text-indent:0.3px">15:05</div>
<div class="ax" style="left:1271.70px;width:60px;text-align:center;top:486.5px;letter-spacing:0.3px;text-indent:0.3px">15:05</div>
<div class="ax" style="left:492.70px;width:60px;text-align:center;top:486.5px;letter-spacing:0.3px;text-indent:0.3px">15:10</div>
<div class="ax" style="left:1409.70px;width:60px;text-align:center;top:486.5px;letter-spacing:0.3px;text-indent:0.3px">15:10</div>
<div class="ax" style="left:632.70px;width:60px;text-align:center;top:486.5px;letter-spacing:0.3px;text-indent:0.3px">15:15</div>
<div class="ax" style="left:1548.70px;width:60px;text-align:center;top:486.5px;letter-spacing:0.3px;text-indent:0.3px">15:15</div>
<div class="ax" style="left:772.70px;width:60px;text-align:center;top:486.5px;letter-spacing:0.3px;text-indent:0.3px">15:20</div>
<div class="ax" style="left:1686.70px;width:60px;text-align:center;top:486.5px;letter-spacing:0.3px;text-indent:0.3px">15:20</div>
<div class="sw" style="left:18px;top:513px;background:#73bf69"></div>
<div class="lg" style="left:40px;top:506.5px">nwaku-postgres:8003</div>
<div class="sw" style="left:178px;top:513px;background:#f2cc0c"></div>
<div class="lg" style="left:200px;top:506.5px;letter-spacing:0.58px">{instance="nwaku-sqlite:8004", job="nwaku_sqlite"}</div>
<div class="sw" style="left:931px;top:513px;background:#73bf69"></div>
<div class="lg" style="left:953px;top:506.5px">nwaku-postgres:8003</div>
<div class="sw" style="left:1091px;top:513px;background:#f2cc0c"></div>
<div class="lg" style="left:1113px;top:506.5px;letter-spacing:0.58px">{instance="nwaku-sqlite:8004", job="nwaku_sqlite"}</div>
</body></html>
